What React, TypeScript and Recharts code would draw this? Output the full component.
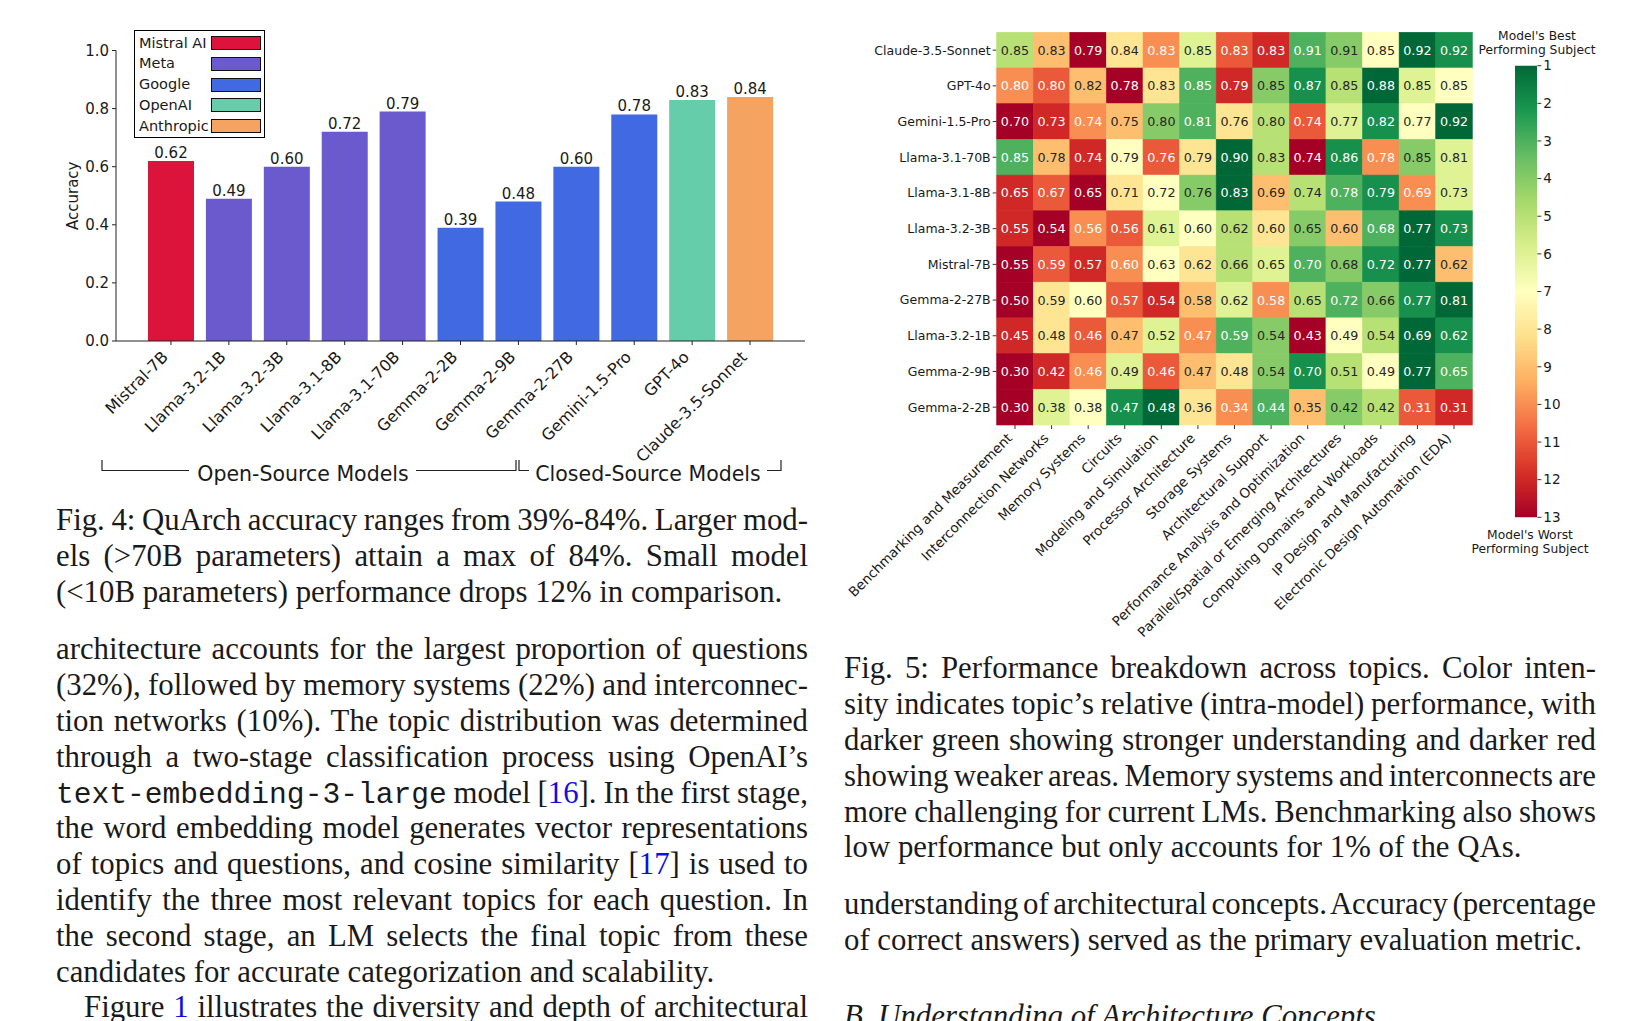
import React from "react";
import {
  Bar,
  BarChart,
  Cell,
  LabelList,
  Legend,
  Scatter,
  ScatterChart,
  XAxis,
  YAxis,
} from "recharts";

// ---- Fig. 4 data ----
const BAR_MODELS = [
  "Mistral-7B",
  "Llama-3.2-1B",
  "Llama-3.2-3B",
  "Llama-3.1-8B",
  "Llama-3.1-70B",
  "Gemma-2-2B",
  "Gemma-2-9B",
  "Gemma-2-27B",
  "Gemini-1.5-Pro",
  "GPT-4o",
  "Claude-3.5-Sonnet",
];
const BAR_ACCURACY = [0.62, 0.49, 0.6, 0.72, 0.79, 0.39, 0.48, 0.6, 0.78, 0.83, 0.84];
const BAR_VENDOR = [
  "Mistral AI",
  "Meta",
  "Meta",
  "Meta",
  "Meta",
  "Google",
  "Google",
  "Google",
  "Google",
  "OpenAI",
  "Anthropic",
];
const VENDORS = ["Mistral AI", "Meta", "Google", "OpenAI", "Anthropic"];
const VENDOR_COLORS = ["#DC143C", "#6A5ACD", "#4169E1", "#66CDAA", "#F4A460"];
const ACC_TICKS = [0, 0.2, 0.4, 0.6, 0.8, 1.0];

// ---- Fig. 5 data ----
const HM_MODELS = [
  "Claude-3.5-Sonnet",
  "GPT-4o",
  "Gemini-1.5-Pro",
  "Llama-3.1-70B",
  "Llama-3.1-8B",
  "Llama-3.2-3B",
  "Mistral-7B",
  "Gemma-2-27B",
  "Llama-3.2-1B",
  "Gemma-2-9B",
  "Gemma-2-2B",
];
const HM_TOPICS = [
  "Benchmarking and Measurement",
  "Interconnection Networks",
  "Memory Systems",
  "Circuits",
  "Modeling and Simulation",
  "Processor Architecture",
  "Storage Systems",
  "Architectural Support",
  "Performance Analysis and Optimization",
  "Parallel/Spatial or Emerging Architectures",
  "Computing Domains and Workloads",
  "IP Design and Manufacturing",
  "Electronic Design Automation (EDA)",
];
const HM_VALUES = [
  [0.85, 0.83, 0.79, 0.84, 0.83, 0.85, 0.83, 0.83, 0.91, 0.91, 0.85, 0.92, 0.92],
  [0.8, 0.8, 0.82, 0.78, 0.83, 0.85, 0.79, 0.85, 0.87, 0.85, 0.88, 0.85, 0.85],
  [0.7, 0.73, 0.74, 0.75, 0.8, 0.81, 0.76, 0.8, 0.74, 0.77, 0.82, 0.77, 0.92],
  [0.85, 0.78, 0.74, 0.79, 0.76, 0.79, 0.9, 0.83, 0.74, 0.86, 0.78, 0.85, 0.81],
  [0.65, 0.67, 0.65, 0.71, 0.72, 0.76, 0.83, 0.69, 0.74, 0.78, 0.79, 0.69, 0.73],
  [0.55, 0.54, 0.56, 0.56, 0.61, 0.6, 0.62, 0.6, 0.65, 0.6, 0.68, 0.77, 0.73],
  [0.55, 0.59, 0.57, 0.6, 0.63, 0.62, 0.66, 0.65, 0.7, 0.68, 0.72, 0.77, 0.62],
  [0.5, 0.59, 0.6, 0.57, 0.54, 0.58, 0.62, 0.58, 0.65, 0.72, 0.66, 0.77, 0.81],
  [0.45, 0.48, 0.46, 0.47, 0.52, 0.47, 0.59, 0.54, 0.43, 0.49, 0.54, 0.69, 0.62],
  [0.3, 0.42, 0.46, 0.49, 0.46, 0.47, 0.48, 0.54, 0.7, 0.51, 0.49, 0.77, 0.65],
  [0.3, 0.38, 0.38, 0.47, 0.48, 0.36, 0.34, 0.44, 0.35, 0.42, 0.42, 0.31, 0.31],
];
const RANK_TICKS = [1, 2, 3, 4, 5, 6, 7, 8, 9, 10, 11, 12, 13];

// RdYlGn colormap stops
const RDYLGN = [
  "#a50026", "#d73027", "#f46d43", "#fdae61", "#fee08b", "#ffffbf",
  "#d9ef8b", "#a6d96a", "#66bd63", "#1a9850", "#006837",
];

const SANS = '"DejaVu Sans", sans-serif';
const SERIF = '"Liberation Serif", "Times New Roman", serif';
const MONO = '"Liberation Mono", "Courier New", monospace';
const INK = "#1a1a1a";

const hexToRgb = (h: string) => [1, 3, 5].map((i) => parseInt(h.slice(i, i + 2), 16));

function rdylgn(t: number) {
  const p = Math.max(0, Math.min(1, t)) * (RDYLGN.length - 1);
  const i = Math.min(Math.floor(p), RDYLGN.length - 2);
  const f = p - i;
  const a = hexToRgb(RDYLGN[i]);
  const b = hexToRgb(RDYLGN[i + 1]);
  const c = a.map((v, k) => Math.round(v + (b[k] - v) * f));
  return `rgb(${c[0]},${c[1]},${c[2]})`;
}

function luminance(rgb: string) {
  const [r, g, b] = rgb.match(/\d+/g)!.map((v) => {
    const s = Number(v) / 255;
    return s <= 0.03928 ? s / 12.92 : Math.pow((s + 0.055) / 1.055, 2.4);
  });
  return 0.2126 * r + 0.7152 * g + 0.0722 * b;
}

// rank each topic inside a model's row (1 = best)
function rankRow(row: number[]) {
  const order = row.map((_, i) => i).sort((a, b) => row[b] - row[a]);
  const ranks: number[] = new Array(row.length);
  order.forEach((idx, pos) => {
    ranks[idx] = pos + 1;
  });
  return ranks;
}

const barData = BAR_MODELS.map((name, i) => ({
  name,
  accuracy: BAR_ACCURACY[i],
  color: VENDOR_COLORS[VENDORS.indexOf(BAR_VENDOR[i])],
}));

const heatData = HM_VALUES.flatMap((row, r) => {
  const ranks = rankRow(row);
  return row.map((value, c) => {
    const color = rdylgn((13 - ranks[c]) / 12);
    return {
      x: c,
      y: r,
      value,
      color,
      textColor: luminance(color) > 0.408 ? "#262626" : "#ffffff",
    };
  });
});

// heatmap geometry
const HM_W = 830;
const HM_H = 640;
const HM_MARGIN = { top: 32.3, left: 26.7, right: 177.7, bottom: 15 };
const HM_YAXIS_W = 150;
const HM_XAXIS_H = 200;
const CELL_W = (HM_W - HM_MARGIN.left - HM_MARGIN.right - HM_YAXIS_W) / HM_TOPICS.length;
const CELL_H = (HM_H - HM_MARGIN.top - HM_MARGIN.bottom - HM_XAXIS_H) / HM_MODELS.length;

const HeatCell = (props: any) => {
  const { cx, cy, payload } = props;
  return (
    <g>
      <rect
        x={cx - CELL_W / 2}
        y={cy - CELL_H / 2}
        width={CELL_W}
        height={CELL_H}
        fill={payload.color}
        stroke={payload.color}
        strokeWidth={0.6}
      />
      <text
        x={cx}
        y={cy}
        textAnchor="middle"
        dominantBaseline="central"
        fontSize={12.7}
        fontFamily={SANS}
        fill={payload.textColor}>
        {payload.value.toFixed(2)}
      </text>
    </g>
  );
};

const BarXTick = (props: any) => {
  const { x, y, payload } = props;
  return (
    <text
      transform={`translate(${x - 2},${y + 10}) rotate(-45)`}
      textAnchor="end"
      fontSize={16}
      fontFamily={SANS}
      fill={INK}>
      {payload.value}
    </text>
  );
};

const TopicTick = (props: any) => {
  const { x, y, payload } = props;
  return (
    <text
      transform={`translate(${x - 2},${y + 8}) rotate(-45)`}
      textAnchor="end"
      fontSize={13.5}
      fontFamily={SANS}
      fill={INK}>
      {HM_TOPICS[payload.value]}
    </text>
  );
};

function VendorLegend() {
  return (
    <div
      style={{
        width: 131,
        height: 108,
        boxSizing: "border-box",
        border: "1px solid #000",
        background: "#fff",
        paddingTop: 2,
        fontFamily: SANS,
        fontSize: 14.5,
        color: INK,
      }}>
      {VENDORS.map((v, i) => (
        <div
          key={v}
          style={{ position: "relative", height: 20.8, lineHeight: "20.8px", paddingLeft: 4 }}>
          {v}
          <span
            style={{
              position: "absolute",
              left: 76,
              top: 3.5,
              width: 50,
              height: 14,
              boxSizing: "border-box",
              border: "1.2px solid #111",
              background: VENDOR_COLORS[i],
            }}
          />
        </div>
      ))}
    </div>
  );
}

// one justified line: tight word spacing, then stretched to the column width
const J = ({ children }: { children: React.ReactNode }) => (
  <div
    style={{
      textAlign: "justify",
      textAlignLast: "justify",
      height: 35.8,
      wordSpacing: -6,
      whiteSpace: "nowrap",
    }}>
    {children}
  </div>
);
const L = ({ children }: { children: React.ReactNode }) => (
  <div style={{ height: 35.8, whiteSpace: "nowrap" }}>{children}</div>
);
const Cite = ({ children }: { children: React.ReactNode }) => (
  <span style={{ color: "#1010e0" }}>{children}</span>
);

const textBlock = (left: number, top: number): React.CSSProperties => ({
  position: "absolute",
  left,
  top,
  width: 752,
  fontFamily: SERIF,
  fontSize: 30.8,
  lineHeight: "35.8px",
  color: INK,
});

export default function App() {
  return (
    <div
      style={{
        position: "absolute",
        left: 0,
        top: 0,
        width: 1650,
        height: 1021,
        overflow: "hidden",
        background: "#fff",
      }}>
      <svg width={0} height={0} style={{ position: "absolute" }}>
        <defs>
          <linearGradient id="rdylgn-cb" x1="0" y1="0" x2="0" y2="1">
            {RDYLGN.map((c, i) => (
              <stop key={c} offset={i / (RDYLGN.length - 1)} stopColor={RDYLGN[RDYLGN.length - 1 - i]} />
            ))}
          </linearGradient>
        </defs>
      </svg>

      {/* Fig. 4 bar chart */}
      <div style={{ position: "absolute", left: 0, top: 0 }}>
        <BarChart
          width={830}
          height={480}
          data={barData}
          margin={{ top: 50.5, left: 66, right: 25, bottom: 39 }}>
          <XAxis
            dataKey="name"
            interval={0}
            height={100}
            padding={{ left: 26, right: 26 }}
            stroke="#222"
            tickSize={4}
            tickMargin={3}
            tick={<BarXTick />}
          />
          <YAxis
            width={50}
            domain={[0, 1]}
            ticks={ACC_TICKS}
            tickFormatter={(v: number) => v.toFixed(1)}
            stroke="#222"
            tickSize={4}
            tickMargin={3}
            tick={{ fontSize: 15, fill: INK, fontFamily: SANS }}
            label={{
              content: ({ viewBox }: any) => (
                <text
                  transform={`translate(${viewBox.x + 12},${viewBox.y + viewBox.height / 2}) rotate(-90)`}
                  textAnchor="middle"
                  fontSize={15}
                  fontFamily={SANS}
                  fill={INK}>
                  Accuracy
                </text>
              ),
            }}
          />
          <Legend
            layout="vertical"
            align="center"
            verticalAlign="middle"
            wrapperStyle={{ left: 134, top: 29.5, width: 131, height: 108 }}
            content={() => <VendorLegend />}
          />
          <Bar dataKey="accuracy" barSize={46} isAnimationActive={false}>
            {barData.map((d) => (
              <Cell key={d.name} fill={d.color} />
            ))}
            <LabelList
              dataKey="accuracy"
              position="top"
              offset={3}
              formatter={(v: any) => Number(v).toFixed(2)}
              style={{ fontSize: 15, fill: INK, fontFamily: SANS }}
            />
          </Bar>
        </BarChart>
      </div>

      {/* Fig. 5 heatmap */}
      <div style={{ position: "absolute", left: 820, top: 0 }}>
        <ScatterChart width={HM_W} height={HM_H} margin={HM_MARGIN}>
          <XAxis
            type="number"
            dataKey="x"
            domain={[-0.5, HM_TOPICS.length - 0.5]}
            ticks={HM_TOPICS.map((_, i) => i)}
            interval={0}
            height={HM_XAXIS_H}
            axisLine={false}
            tickLine={{ stroke: "#333" }}
            tickSize={4}
            tickMargin={2}
            tick={<TopicTick />}
          />
          <YAxis
            type="number"
            dataKey="y"
            reversed
            domain={[-0.5, HM_MODELS.length - 0.5]}
            ticks={HM_MODELS.map((_, i) => i)}
            interval={0}
            width={HM_YAXIS_W}
            axisLine={false}
            tickLine={{ stroke: "#333" }}
            tickSize={4}
            tickMargin={2}
            tickFormatter={(i: number) => HM_MODELS[i]}
            tick={{ fontSize: 12.5, fill: INK, fontFamily: SANS }}
          />
          <Scatter data={heatData} shape={(p: any) => <HeatCell {...p} />} isAnimationActive={false} />
        </ScatterChart>
      </div>

      {/* colorbar */}
      <div style={{ position: "absolute", left: 1480, top: 0 }}>
        <BarChart
          width={170}
          height={560}
          data={[{ k: "rank", span: [1, 13] }]}
          margin={{ top: 65.7, left: 35, right: 52.7, bottom: 42.7 }}
          barCategoryGap={0}>
          <XAxis dataKey="k" hide />
          <YAxis
            orientation="right"
            type="number"
            reversed
            domain={[1, 13]}
            ticks={RANK_TICKS}
            interval={0}
            width={60}
            axisLine={false}
            tickLine={{ stroke: "#333" }}
            tickSize={4}
            tickMargin={2}
            tick={{ fontSize: 13.5, fill: INK, fontFamily: SANS }}
          />
          <Bar dataKey="span" fill="url(#rdylgn-cb)" isAnimationActive={false} />
        </BarChart>
      </div>

      {/* annotations */}
      <svg
        width={1650}
        height={1021}
        style={{ position: "absolute", left: 0, top: 0, pointerEvents: "none" }}
        fontFamily={SANS}>
        <g stroke="#222" strokeWidth={1.2} fill="none">
          <polyline points="102,460 102,470.5 189,470.5" />
          <polyline points="416,470.5 516,470.5 516,460" />
          <polyline points="519,460 519,470.5 529,470.5" />
          <polyline points="767,470.5 781,470.5 781,460" />
        </g>
        <text x={303} y={481} textAnchor="middle" fontSize={20.5} fill={INK}>
          Open-Source Models
        </text>
        <text x={648} y={481} textAnchor="middle" fontSize={20.5} fill={INK}>
          Closed-Source Models
        </text>
        <g fontSize={12.3} fill={INK} textAnchor="middle">
          <text x={1537} y={39.5}>Model's Best</text>
          <text x={1537} y={53.5}>Performing Subject</text>
          <text x={1530} y={538.5}>Model's Worst</text>
          <text x={1530} y={552.5}>Performing Subject</text>
        </g>
      </svg>

      {/* text */}
      <div style={textBlock(56, 503)}>
        <J>Fig. 4: QuArch accuracy ranges from 39%-84%. Larger mod-</J>
        <J>els (&gt;70B parameters) attain a max of 84%. Small model</J>
        <L>(&lt;10B parameters) performance drops 12% in comparison.</L>
      </div>
      <div style={textBlock(56, 632.4)}>
        <J>architecture accounts for the largest proportion of questions</J>
        <J>(32%), followed by memory systems (22%) and interconnec-</J>
        <J>tion networks (10%). The topic distribution was determined</J>
        <J>through a two-stage classification process using OpenAI’s</J>
        <J>
          <span style={{ fontFamily: MONO, fontSize: 29.6, wordSpacing: 0 }}>text-embedding-3-large</span>{" "}
          model [<Cite>16</Cite>]. In the first stage,
        </J>
        <J>the word embedding model generates vector representations</J>
        <J>
          of topics and questions, and cosine similarity [<Cite>17</Cite>] is used to
        </J>
        <J>identify the three most relevant topics for each question. In</J>
        <J>the second stage, an LM selects the final topic from these</J>
        <L>candidates for accurate categorization and scalability.</L>
        <div style={{ paddingLeft: 28 }}>
          <J>
            Figure <Cite>1</Cite> illustrates the diversity and depth of architectural
          </J>
        </div>
      </div>
      <div style={textBlock(844, 651.4)}>
        <J>Fig. 5: Performance breakdown across topics. Color inten-</J>
        <J>sity indicates topic’s relative (intra-model) performance, with</J>
        <J>darker green showing stronger understanding and darker red</J>
        <J>showing weaker areas. Memory systems and interconnects are</J>
        <J>more challenging for current LMs. Benchmarking also shows</J>
        <L>low performance but only accounts for 1% of the QAs.</L>
      </div>
      <div style={textBlock(844, 887.1)}>
        <J>understanding of architectural concepts. Accuracy (percentage</J>
        <L>of correct answers) served as the primary evaluation metric.</L>
      </div>
      <div style={{ ...textBlock(844, 998.6), fontStyle: "italic" }}>
        <L>B. Understanding of Architecture Concepts</L>
      </div>
    </div>
  );
}
